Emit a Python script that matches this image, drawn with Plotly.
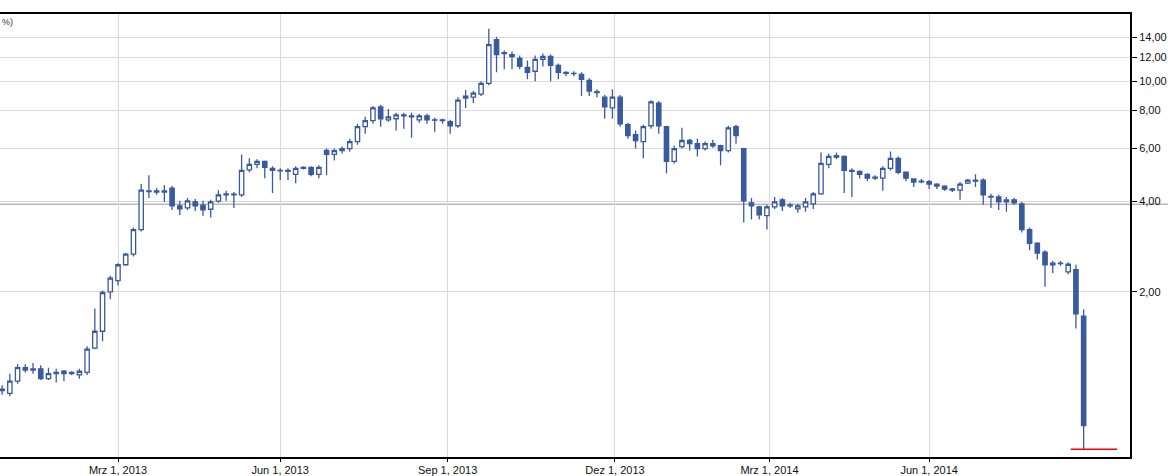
import pandas as pd
import plotly.graph_objects as go

# ---- calendar (trading days) ----
holidays = ["2012-12-24", "2012-12-25", "2012-12-26", "2012-12-31", "2013-01-01",
            "2013-03-29", "2013-04-01", "2013-05-01", "2013-12-24", "2013-12-25",
            "2013-12-26", "2013-12-31", "2014-01-01", "2014-04-18", "2014-04-21",
            "2014-05-01"]
trading_days = pd.bdate_range("2012-12-20", "2014-10-31", freq="C", holidays=holidays)

# ---- OHLC values (3-trading-day candles) ----
open_ = [0.94, 0.92, 1.01, 1.12, 1.10, 1.11, 1.03, 1.07, 1.07, 1.08,
         1.06, 1.08, 1.30, 1.48, 2.00, 2.18, 2.46, 2.67, 3.22, 4.30,
         4.33, 4.29, 4.42, 3.86, 3.80, 3.98, 3.88, 3.76, 4.00, 4.20,
         4.22, 4.20, 5.08, 5.30, 5.42, 5.14, 5.06, 5.06, 4.91, 5.14,
         5.18, 4.91, 5.90, 5.72, 5.89, 5.98, 6.31, 7.07, 7.40, 8.22,
         7.45, 7.51, 7.74, 7.68, 7.45, 7.68, 7.45, 7.45, 7.34, 7.12,
         8.79, 8.86, 9.07, 9.85, 13.75, 12.46, 12.27, 11.91, 11.12, 10.80,
         11.82, 12.09, 11.30, 10.71, 10.63, 10.55, 10.08, 9.18, 8.86, 8.16,
         8.86, 7.18, 6.65, 6.31, 7.12, 8.47, 7.07, 5.42, 6.07, 6.36,
         6.21, 5.98, 6.21, 6.11, 5.89, 7.07, 5.98, 3.95, 3.83, 3.58,
         3.83, 4.04, 3.86, 3.77, 3.83, 3.92, 4.23, 5.30, 5.67, 5.63,
         5.06, 5.02, 4.91, 4.77, 4.77, 5.14, 5.55, 4.99, 4.74, 4.66,
         4.64, 4.56, 4.49, 4.39, 4.35, 4.59, 4.70, 4.70, 4.13, 4.13,
         3.98, 4.04, 3.92, 3.22, 2.90, 2.71, 2.46, 2.49, 2.33, 2.37,
         1.66]
high = [0.98, 1.07, 1.15, 1.15, 1.16, 1.14, 1.12, 1.11, 1.10, 1.09,
        1.11, 1.32, 1.76, 2.02, 2.26, 2.49, 2.69, 3.27, 4.56, 4.88,
        4.42, 4.52, 4.49, 4.01, 4.10, 4.07, 4.01, 4.04, 4.35, 4.33,
        4.29, 5.72, 5.55, 5.51, 5.46, 5.22, 5.14, 5.14, 5.22, 5.22,
        5.22, 5.26, 5.98, 5.98, 6.07, 6.45, 7.23, 7.62, 8.28, 8.35,
        8.10, 7.86, 7.86, 7.86, 7.80, 7.80, 7.57, 7.51, 7.45, 8.86,
        9.35, 9.28, 10.01, 14.94, 14.07, 12.65, 12.55, 12.18, 11.73, 12.18,
        12.36, 12.27, 11.47, 10.80, 10.80, 10.71, 10.24, 9.42, 9.00, 9.42,
        9.00, 7.29, 6.86, 7.18, 8.66, 8.60, 7.12, 6.11, 7.01, 6.45,
        6.45, 6.31, 6.40, 6.16, 7.12, 7.18, 6.02, 4.10, 3.86, 3.89,
        4.13, 4.10, 3.95, 3.92, 4.10, 4.29, 5.80, 5.76, 5.80, 5.67,
        5.14, 5.06, 4.95, 4.88, 5.22, 5.85, 5.63, 5.02, 4.77, 4.74,
        4.70, 4.59, 4.52, 4.42, 4.63, 4.74, 4.91, 4.77, 4.23, 4.20,
        4.13, 4.10, 3.98, 3.27, 2.92, 2.75, 2.53, 2.53, 2.51, 2.46,
        1.75]
low = [0.91, 0.90, 0.99, 1.08, 1.07, 1.02, 1.02, 1.00, 1.01, 1.06,
       1.03, 1.06, 1.29, 1.37, 1.89, 2.10, 2.44, 2.62, 3.17, 4.10,
       4.20, 3.98, 3.74, 3.60, 3.74, 3.71, 3.58, 3.53, 3.95, 4.01,
       3.80, 4.13, 4.99, 5.14, 4.77, 4.26, 4.70, 4.70, 4.59, 5.10,
       4.84, 4.77, 4.88, 5.46, 5.76, 5.85, 6.16, 6.70, 7.23, 7.07,
       7.34, 6.86, 6.96, 6.50, 7.29, 7.23, 6.80, 7.23, 6.70, 7.01,
       8.16, 8.47, 8.93, 9.71, 10.71, 10.96, 10.96, 10.96, 10.16, 10.01,
       11.21, 10.01, 10.16, 10.39, 10.39, 8.93, 8.93, 8.86, 7.51, 7.51,
       7.07, 6.45, 5.98, 5.55, 6.96, 6.70, 4.95, 5.34, 5.98, 5.89,
       5.63, 5.89, 6.02, 5.26, 5.80, 6.21, 3.40, 3.48, 3.48, 3.22,
       3.77, 3.71, 3.80, 3.66, 3.69, 3.77, 4.20, 5.14, 5.51, 4.26,
       4.13, 4.77, 4.66, 4.70, 4.33, 5.06, 4.91, 4.66, 4.46, 4.59,
       4.39, 4.39, 4.33, 4.29, 4.04, 4.56, 4.46, 3.89, 3.80, 3.74,
       3.69, 3.89, 3.15, 2.75, 2.56, 2.08, 2.31, 2.44, 2.29, 1.51,
       0.60]
close = [0.95, 1.01, 1.12, 1.10, 1.11, 1.03, 1.07, 1.08, 1.09, 1.07,
         1.09, 1.29, 1.48, 1.99, 2.22, 2.46, 2.67, 3.22, 4.35, 4.33,
         4.29, 4.33, 3.86, 3.77, 4.01, 3.86, 3.74, 3.98, 4.20, 4.23,
         4.20, 5.06, 5.30, 5.42, 5.18, 5.06, 5.04, 5.02, 5.14, 5.18,
         4.91, 5.18, 5.72, 5.89, 5.98, 6.31, 7.07, 7.40, 8.16, 7.51,
         7.62, 7.74, 7.68, 7.62, 7.68, 7.45, 7.43, 7.40, 7.12, 8.66,
         8.93, 9.14, 9.85, 13.24, 12.27, 12.36, 12.09, 11.21, 10.71, 11.82,
         12.09, 11.30, 10.71, 10.63, 10.60, 10.16, 9.28, 9.24, 8.22, 8.86,
         7.23, 6.60, 6.36, 7.07, 8.54, 7.12, 5.42, 5.98, 6.36, 6.21,
         5.98, 6.21, 6.11, 5.89, 7.01, 6.60, 4.01, 3.86, 3.60, 3.83,
         3.98, 3.86, 3.89, 3.86, 3.98, 4.23, 5.34, 5.63, 5.60, 5.06,
         5.02, 4.91, 4.77, 4.81, 5.14, 5.55, 4.99, 4.77, 4.63, 4.64,
         4.56, 4.49, 4.39, 4.35, 4.56, 4.70, 4.66, 4.20, 4.15, 3.98,
         4.04, 3.95, 3.22, 2.90, 2.69, 2.46, 2.49, 2.48, 2.47, 1.69,
         0.72]

ref_level = 3.91  # grey horizontal reference line

y_ticks = [2, 4, 6, 8, 10, 12, 14]
y_labels = ["2,00", "4,00", "6,00", "8,00", "10,00", "12,00", "14,00"]
tick_dates = ["2013-03-01", "2013-06-03", "2013-09-02", "2013-12-02", "2014-03-03", "2014-06-02"]
tick_labels = ["Mrz 1, 2013", "Jun 1, 2013", "Sep 1, 2013", "Dez 1, 2013", "Mrz 1, 2014", "Jun 1, 2014"]

# ---- positions on a trading-day axis ----
candle_days = trading_days[1::3][:len(close)]
x_pos = trading_days.get_indexer(candle_days)
tick_pos = trading_days.get_indexer(pd.to_datetime(tick_dates))

BLUE = "#3a5a9e"

fig = go.Figure()
fig.add_trace(go.Candlestick(
    x=x_pos, open=open_, high=high, low=low, close=close,
    customdata=[d.strftime("%d.%m.%Y") for d in candle_days],
    increasing=dict(line=dict(color=BLUE, width=1.3), fillcolor="white"),
    decreasing=dict(line=dict(color=BLUE, width=1.3), fillcolor=BLUE),
    whiskerwidth=0, showlegend=False,
))

last_x = x_pos[-1]
fig.add_shape(type="line", xref="x", yref="y", x0=last_x - 5, x1=last_x + 13,
              y0=low[-1], y1=low[-1], line=dict(color="#ff0000", width=1.5))
fig.add_shape(type="line", xref="paper", yref="y", x0=0, x1=1.04,
              y0=ref_level, y1=ref_level, line=dict(color="#b9b9b9", width=1.5),
              layer="below")

fig.add_annotation(text="%)", xref="paper", yref="paper", x=0, y=0.981,
                   xanchor="left", yanchor="middle", xshift=0, showarrow=False,
                   font=dict(family="Liberation Sans, Arial, sans-serif", size=9, color="#333"))

fig.update_layout(
    width=1168, height=476,
    margin=dict(l=0, r=38, t=14, b=14),
    paper_bgcolor="white", plot_bgcolor="white",
    boxgap=0.2,
    font=dict(family="Liberation Sans, Arial, sans-serif", size=11, color="#111"),
    xaxis=dict(
        type="linear", range=[0.175, 439.0],
        tickmode="array", tickvals=tick_pos, ticktext=tick_labels,
        showgrid=True, gridcolor="#d9d9d9", gridwidth=1,
        showline=True, linecolor="black", linewidth=2, mirror=True,
        ticks="outside", ticklen=3, tickcolor="black",
        ticklabelstandoff=-1,
        zeroline=False, rangeslider=dict(visible=False),
    ),
    yaxis=dict(
        type="log", side="right", range=[-0.2473, 1.2235],
        tickmode="array", tickvals=y_ticks, ticktext=y_labels,
        showgrid=True, gridcolor="#d9d9d9", gridwidth=1,
        showline=True, linecolor="black", linewidth=2,
        ticks="outside", ticklen=5, tickcolor="black",
        zeroline=False,
    ),
)

fig.write_html("out.html",
               config={"displayModeBar": False},
               post_script="document.body.style.margin='0px';document.body.style.overflow='hidden';")
